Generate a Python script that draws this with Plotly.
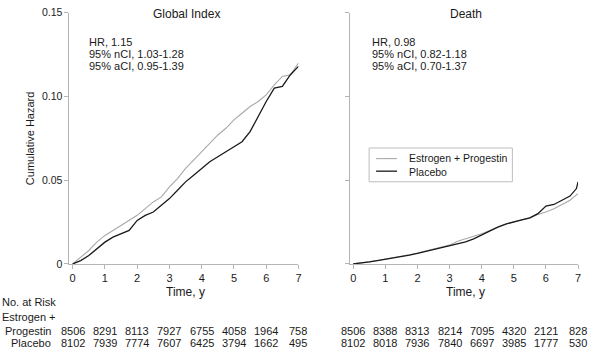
import plotly.graph_objects as go

W, H = 590, 352

# ---------------- data ----------------
panel_titles = ["Global Index", "Death"]
series_names = ["Estrogen + Progestin", "Placebo"]

t_grid = [0, 0.25, 0.5, 0.75, 1.0, 1.25, 1.5, 1.75, 2.0, 2.25, 2.5, 2.75, 3.0,
          3.25, 3.5, 3.75, 4.0, 4.25, 4.5, 4.75, 5.0, 5.25, 5.5, 5.75, 6.0,
          6.25, 6.5, 6.75, 7.0]

gi_ep = [0, 0.004, 0.008, 0.013, 0.017, 0.020, 0.023, 0.026, 0.029, 0.033,
         0.037, 0.040, 0.046, 0.051, 0.057, 0.062, 0.067, 0.072, 0.077, 0.081,
         0.086, 0.090, 0.094, 0.097, 0.101, 0.107, 0.112, 0.113, 0.120]
gi_pl = [0, 0.002, 0.005, 0.009, 0.013, 0.016, 0.018, 0.020, 0.026, 0.029,
         0.031, 0.035, 0.039, 0.044, 0.049, 0.053, 0.057, 0.061, 0.064, 0.067,
         0.070, 0.073, 0.079, 0.088, 0.097, 0.105, 0.106, 0.113, 0.118]

t_death_pl = [0, 0.25, 0.5, 0.75, 1.0, 1.25, 1.5, 1.75, 2.0, 2.25, 2.5, 2.75, 3.0,
              3.25, 3.5, 3.75, 4.0, 4.25, 4.5, 4.75, 5.0, 5.25, 5.5, 5.75, 6.0,
              6.25, 6.5, 6.75, 6.95, 7.0]
d_ep = [0, 0.0005, 0.0012, 0.002, 0.0028, 0.0035, 0.0045, 0.0055, 0.0065,
        0.0077, 0.009, 0.010, 0.0112, 0.0135, 0.0150, 0.0165, 0.018, 0.020,
        0.022, 0.0238, 0.0252, 0.0262, 0.0275, 0.0295, 0.031, 0.033, 0.0355,
        0.038, 0.042]
d_pl = [0, 0.0005, 0.0012, 0.002, 0.0028, 0.0033, 0.0043, 0.0053, 0.0063,
        0.0075, 0.0088, 0.010, 0.0110, 0.0120, 0.0132, 0.015, 0.0175, 0.020,
        0.022, 0.0238, 0.0252, 0.0263, 0.0275, 0.030, 0.0345, 0.0355, 0.038,
        0.0405, 0.045, 0.049]

stats_gi = ["HR, 1.15", "95% nCI, 1.03-1.28", "95% aCI, 0.95-1.39"]
stats_death = ["HR, 0.98", "95% nCI, 0.82-1.18", "95% aCI, 0.70-1.37"]

risk_years = [0, 1, 2, 3, 4, 5, 6, 7]
risk_gi_ep = [8506, 8291, 8113, 7927, 6755, 4058, 1964, 758]
risk_gi_pl = [8102, 7939, 7774, 7607, 6425, 3794, 1662, 495]
risk_d_ep = [8506, 8388, 8313, 8214, 7095, 4320, 2121, 828]
risk_d_pl = [8102, 8018, 7936, 7840, 6697, 3985, 1777, 530]

y_ticks = [0, 0.05, 0.10, 0.15]
y_ticktext = ["0", "0.05", "0.10", "0.15"]
x_ticks = [0, 1, 2, 3, 4, 5, 6, 7]

# ---------------- style ----------------
FONT = "Liberation Sans, Arial, Helvetica, sans-serif"
TXT = "#1a1a1a"
AX = "#b4b4b4"
C_EP = "#a8a8a8"
C_PL = "#1a1a1a"
W_EP = 1.1
W_PL = 1.3


def px(x):
    return x / W


def py(y):
    return 1 - y / H


fig = go.Figure()

fig.add_trace(go.Scatter(x=t_grid, y=gi_ep, mode="lines", name=series_names[0],
                         line=dict(color=C_EP, width=W_EP), xaxis="x", yaxis="y"))
fig.add_trace(go.Scatter(x=t_grid, y=gi_pl, mode="lines", name=series_names[1],
                         line=dict(color=C_PL, width=W_PL), xaxis="x", yaxis="y"))
fig.add_trace(go.Scatter(x=t_grid, y=d_ep, mode="lines", name=series_names[0],
                         line=dict(color=C_EP, width=W_EP), xaxis="x2", yaxis="y2"))
fig.add_trace(go.Scatter(x=t_death_pl, y=d_pl, mode="lines", name=series_names[1],
                         line=dict(color=C_PL, width=W_PL), xaxis="x2", yaxis="y2"))

xr = [-0.1, 7.0]
ydom = [py(267), py(7)]

common_x = dict(range=xr, tickvals=x_ticks, ticks="outside", ticklen=4,
                tickcolor=AX, showline=True, linecolor=AX, linewidth=1,
                showgrid=False, zeroline=False,
                tickfont=dict(family=FONT, size=11, color=TXT))
common_y = dict(range=[0, 0.15], tickvals=y_ticks, ticktext=y_ticktext,
                ticks="outside", ticklen=4, tickcolor=AX, showline=True,
                linecolor=AX, linewidth=1, showgrid=False, zeroline=False,
                domain=ydom, tickfont=dict(family=FONT, size=10.5, color=TXT))

fig.update_layout(
    width=W, height=H,
    margin=dict(l=0, r=0, t=0, b=0),
    paper_bgcolor="white", plot_bgcolor="white",
    font=dict(family=FONT, size=11, color=TXT),
    xaxis=dict(domain=[px(69.8), px(300)], anchor="y", **common_x),
    yaxis=dict(anchor="x", **common_y),
    xaxis2=dict(domain=[px(351.8), px(581)], anchor="y2", **common_x),
    yaxis2=dict(anchor="x2", showticklabels=False, **common_y),
    showlegend=False,
)

ann = []
# panel titles
for title, cx in zip(panel_titles, [187, 468]):
    ann.append(dict(text=title, x=px(cx), y=py(8), xref="paper", yref="paper",
                    showarrow=False, xanchor="center", yanchor="middle",
                    font=dict(size=12)))
# stats text
for lines, lx in [(stats_gi, 87), (stats_death, 372)]:
    for i, s in enumerate(lines):
        ann.append(dict(text=s, x=px(lx), y=py(37 + 12.6 * i), xref="paper",
                        yref="paper", showarrow=False, xanchor="left",
                        yanchor="middle", font=dict(size=11)))
# axis titles
ann.append(dict(text="Cumulative Hazard", x=px(30), y=py(137), xref="paper",
                yref="paper", showarrow=False, textangle=-90,
                xanchor="center", yanchor="middle", font=dict(size=11)))
for cx in [186, 468]:
    ann.append(dict(text="Time, y", x=px(cx), y=py(296), xref="paper",
                    yref="paper", showarrow=False, xanchor="center",
                    yanchor="middle", font=dict(size=12)))
# risk table labels
ann.append(dict(text="No. at Risk", x=0, y=py(306), xref="paper", yref="paper",
                showarrow=False, xanchor="left", yanchor="middle"))
ann.append(dict(text="Estrogen +", x=0, y=py(322), xref="paper", yref="paper",
                showarrow=False, xanchor="left", yanchor="middle"))
ann.append(dict(text="Progestin", x=px(53), y=py(336), xref="paper",
                yref="paper", showarrow=False, xanchor="right",
                yanchor="middle"))
ann.append(dict(text="Placebo", x=px(53), y=py(349), xref="paper",
                yref="paper", showarrow=False, xanchor="right",
                yanchor="middle"))
for xref, rows in [("x", (risk_gi_ep, risk_gi_pl)), ("x2", (risk_d_ep, risk_d_pl))]:
    for vals, yy in zip(rows, [336, 349]):
        for t, v in zip(risk_years, vals):
            ann.append(dict(text=str(v), x=t, y=py(yy), xref=xref,
                            yref="paper", showarrow=False, xanchor="center",
                            yanchor="middle"))

# legend box (drawn compactly, as in the original)
shapes = [dict(type="rect", xref="paper", yref="paper",
               x0=px(371), x1=px(515), y0=py(182), y1=py(147),
               line=dict(color="#bdbdbd", width=1), fillcolor="white",
               layer="above")]
for col, wd, yy in [(C_EP, W_EP, 158), (C_PL, W_PL, 171)]:
    shapes.append(dict(type="line", xref="paper", yref="paper",
                       x0=px(378), x1=px(399), y0=py(yy), y1=py(yy),
                       line=dict(color=col, width=wd), layer="above"))
ann.append(dict(text="<br>".join(series_names), x=px(409), y=py(164.5),
                xref="paper", yref="paper", showarrow=False, xanchor="left",
                yanchor="middle", align="left", font=dict(size=10.5)))

fig.update_layout(annotations=ann, shapes=shapes)
fig.write_html("out.html")
